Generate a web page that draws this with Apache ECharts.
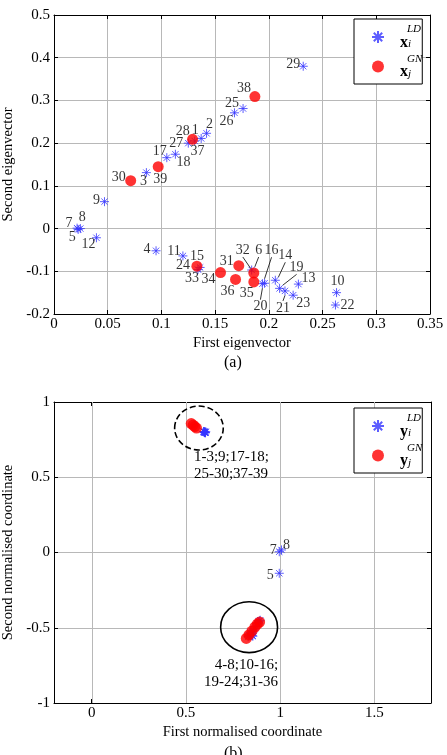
<!DOCTYPE html>
<html>
<head>
<meta charset="utf-8">
<script src="https://cdn.jsdelivr.net/npm/echarts@6/dist/echarts.min.js"></script>
<style>
html, body { margin: 0; padding: 0; background: #fff; }
#main { width: 447px; height: 755px; }
</style>
</head>
<body>
<div id="main"></div>
<script>
// ---- (a) first / second eigenvector ----
let ldIds = [1, 2, 3, 4, 5, 6, 7, 8, 9, 10, 11, 12, 13, 14, 15, 16, 17, 18, 19, 20, 21, 22, 23, 24, 25, 26, 27, 28, 29];
let ldEigX = [0.137, 0.142, 0.086, 0.095, 0.0225, 0.184, 0.0215, 0.0245, 0.047, 0.263, 0.12, 0.0395, 0.2275, 0.206, 0.136,
    0.196, 0.105, 0.113, 0.21, 0.194, 0.215, 0.262, 0.2226, 0.134, 0.176, 0.168, 0.125, 0.131, 0.232];
let ldEigY = [0.211, 0.223, 0.131, -0.052, -0.002, -0.097, 0.001, 0.0, 0.063, -0.15, -0.064, -0.0215, -0.13, -0.121, -0.091,
    -0.128, 0.166, 0.174, -0.14, -0.129, -0.146, -0.179, -0.156, -0.096, 0.281, 0.271, 0.2, 0.205, 0.38];

let gnIds = [30, 31, 32, 33, 34, 35, 36, 37, 38, 39];
let gnEigX = [0.0714, 0.172, 0.186, 0.133, 0.155, 0.186, 0.169, 0.129, 0.187, 0.097];
let gnEigY = [0.112, -0.087, -0.104, -0.088, -0.103, -0.125, -0.119, 0.209, 0.309, 0.145];

// ---- (b) normalised coordinates ----
let ldNormX = [0.598, 0.602, 0.596, 0.85, 0.995, 0.848, 0.995, 1.007, 0.6, 0.852, 0.846, 0.855, 0.84, 0.86, 0.87,
    0.878, 0.594, 0.597, 0.885, 0.89, 0.894, 0.83, 0.835, 0.86, 0.603, 0.601, 0.595, 0.599, 0.605];
let ldNormY = [0.8, 0.797, 0.803, -0.55, -0.138, -0.545, 0.005, 0.017, 0.796, -0.553, -0.54, -0.556, -0.53, -0.52, -0.49,
    -0.47, 0.804, 0.801, -0.46, -0.455, -0.45, -0.56, -0.55, -0.51, 0.795, 0.798, 0.802, 0.799, 0.803];
let gnNormX = [0.528, 0.82, 0.834, 0.85, 0.866, 0.879, 0.891, 0.538, 0.547, 0.556];
let gnNormY = [0.857, -0.571, -0.548, -0.522, -0.495, -0.475, -0.462, 0.847, 0.837, 0.827];

let eigXTicks = { min: 0, max: 0.35, step: 0.05 };
let eigYTicks = { min: -0.2, max: 0.5, step: 0.1 };
let normXTicks = [0, 0.5, 1, 1.5];
let normYTicks = { min: -1, max: 1, step: 0.5 };

// cluster groups in (b): centre, radii, text
let clusterCx = [0.569, 0.835];
let clusterCy = [0.827, -0.496];
let clusterRx = [0.129, 0.151];
let clusterRy = [0.146, 0.169];
let clusterText = ['1-3;9;17-18;\n25-30;37-39', '4-8;10-16;\n19-24;31-36'];

//label placement (px from marker centre)
let eigShift = {
    1: [-6, -8], 2: [3, -9], 3: [-3, 9], 4: [-9, -1], 5: [-6, 8], 6: [7, -20], 7: [-8, -5], 8: [2, -11], 9: [-8, -1],
    10: [1, -11], 11: [-9, -5], 12: [-8, 7], 13: [10, -6], 14: [10, -25], 15: [-3, -11], 16: [7, -33], 17: [-7, -6],
    18: [8, 8], 19: [17, -21], 20: [-2, 23], 21: [-2, 17], 22: [12, 0], 23: [10, 8], 24: [-15, -4], 25: [-11, -5],
    26: [-8, 9], 27: [-12, 0], 28: [-12, -10], 29: [-10, -2],
    30: [-12, -3], 31: [-12, -4], 32: [-11, -23], 33: [-5, 12], 34: [-12, 7], 35: [-7, 11], 36: [-8, 12],
    37: [5, 12], 38: [-11, -8], 39: [2, 13]
};
let leaderIds = [6, 14, 16, 19, 20, 21, 32];
let normShift = { 5: [-9, 2], 7: [-6, -1], 8: [5, -5] };

let FONT = 'Liberation Serif';
let BLUE = '#3535ff';
let RED = '#ff0000';
let GRIDC = '#b8b8b8';
let STAR = 'path://M5,0L5,10M0,5L10,5M1.5,1.5L8.5,8.5M1.5,8.5L8.5,1.5';

let labelShift = (ids, shift) => p => {
    let o = shift[ids[p.dataIndex]] || [0, 0];
    return { dx: o[0], dy: o[1] };
};

let pointLabel = {
    show: true,
    position: 'inside',
    formatter: '{b}',
    color: '#000',
    fontFamily: FONT,
    fontSize: 14
};

let xAxisBase = (gridIndex, position) => ({
    gridIndex: gridIndex,
    type: 'value',
    position: position,
    axisLine: { show: true, onZero: false, lineStyle: { color: '#000', width: 1 } },
    axisTick: { show: true, inside: true, length: 4, lineStyle: { color: '#000' } },
    axisLabel: { show: position === 'bottom', margin: 3, color: '#000', fontFamily: FONT, fontSize: 15 },
    splitLine: { show: false }
});

let yAxisBase = (gridIndex, position) => ({
    gridIndex: gridIndex,
    type: 'value',
    position: position,
    axisLine: { show: true, onZero: false, lineStyle: { color: '#000', width: 1 } },
    axisTick: { show: true, inside: true, length: 4, lineStyle: { color: '#000' } },
    axisLabel: { show: position === 'left', margin: 4, color: '#000', fontFamily: FONT, fontSize: 15 },
    splitLine: { show: false }
});

let nameStyle = { color: '#000', fontFamily: FONT, fontSize: 14.5 };

let legendBase = (names, top, letter) => ({
    data: names,
    orient: 'vertical',
    left: 354,
    top: top,
    padding: [5, 0, 4, 17],
    itemGap: 3,
    itemWidth: 12,
    itemHeight: 12,
    borderColor: '#000',
    borderWidth: 1,
    backgroundColor: '#fff',
    selectedMode: false,
    formatter: name => {
        let isLD = name.endsWith('LD');
        return '{sp|' + (isLD ? 'LD' : 'GN') + '}\n{b|' + letter + '}{sub|' + (isLD ? 'i' : 'j') + '}';
    },
    textStyle: {
        color: '#000',
        fontFamily: FONT,
        rich: {
            sp: { fontStyle: 'italic', fontSize: 11, lineHeight: 11, padding: [0, 0, 0, 18], fontFamily: FONT },
            b: { fontWeight: 'bold', fontSize: 16, lineHeight: 15, padding: [0, 0, 0, 11], fontFamily: FONT },
            sub: { fontStyle: 'italic', fontSize: 11, lineHeight: 15, verticalAlign: 'bottom', fontFamily: FONT }
        }
    }
});

let chart = echarts.init(document.getElementById('main'), null, { renderer: 'canvas' });

let option = {
    animation: false,
    backgroundColor: '#fff',
    title: [
        { text: '(a)', left: 224, top: 355, padding: 0, textStyle: { fontFamily: FONT, fontSize: 16, fontWeight: 'normal', color: '#000' } },
        { text: '(b)', left: 224, top: 746, padding: 0, textStyle: { fontFamily: FONT, fontSize: 16, fontWeight: 'normal', color: '#000' } }
    ],
    grid: [
        { left: 54, top: 15, width: 376, height: 299, outerBoundsMode: 'none' },
        { left: 54, top: 402, width: 377, height: 301, outerBoundsMode: 'none' }
    ],
    legend: [
        legendBase(['xLD', 'xGN'], 19, 'x'),
        legendBase(['yLD', 'yGN'], 408, 'y')
    ],
    xAxis: [
        {
            ...xAxisBase(0, 'bottom'),
            min: eigXTicks.min, max: eigXTicks.max, interval: eigXTicks.step,
            splitLine: { show: true, lineStyle: { color: GRIDC, width: 1 } },
            name: 'First eigenvector', nameLocation: 'middle', nameGap: 22, nameTextStyle: nameStyle
        },
        { ...xAxisBase(0, 'top'), min: eigXTicks.min, max: eigXTicks.max, interval: eigXTicks.step },
        {
            ...xAxisBase(1, 'bottom'),
            min: -0.2, max: 1.8,
            axisTick: { show: true, inside: true, length: 4, lineStyle: { color: '#000' }, customValues: normXTicks },
            axisLabel: { show: true, margin: 3, color: '#000', fontFamily: FONT, fontSize: 15, customValues: normXTicks },
            name: 'First normalised coordinate', nameLocation: 'middle', nameGap: 22, nameTextStyle: nameStyle
        },
        {
            ...xAxisBase(1, 'top'),
            min: -0.2, max: 1.8,
            axisTick: { show: true, inside: true, length: 4, lineStyle: { color: '#000' }, customValues: normXTicks },
            axisLabel: { show: false }
        }
    ],
    yAxis: [
        {
            ...yAxisBase(0, 'left'),
            min: eigYTicks.min, max: eigYTicks.max, interval: eigYTicks.step,
            splitLine: { show: true, lineStyle: { color: GRIDC, width: 1 } },
            name: 'Second eigenvector', nameLocation: 'middle', nameGap: 30, nameTextStyle: nameStyle
        },
        { ...yAxisBase(0, 'right'), min: eigYTicks.min, max: eigYTicks.max, interval: eigYTicks.step },
        {
            ...yAxisBase(1, 'left'),
            min: normYTicks.min, max: normYTicks.max, interval: normYTicks.step,
            splitLine: { show: true, lineStyle: { color: GRIDC, width: 1 } },
            name: 'Second normalised coordinate', nameLocation: 'middle', nameGap: 30, nameTextStyle: nameStyle
        },
        { ...yAxisBase(1, 'right'), min: normYTicks.min, max: normYTicks.max, interval: normYTicks.step }
    ],
    series: [
        {
            name: 'xLD',
            type: 'scatter',
            xAxisIndex: 0, yAxisIndex: 0,
            symbol: STAR, symbolSize: 9,
            itemStyle: { color: 'rgba(0,0,0,0)', borderColor: BLUE, borderWidth: 1 },
            label: pointLabel,
            labelLine: { show: false, lineStyle: { color: '#000', width: 0.8 } },
            labelLayout: labelShift(ldIds, eigShift),
            data: ldIds.map((id, i) => ({
                name: String(id),
                value: [ldEigX[i], ldEigY[i]],
                labelLine: { show: leaderIds.includes(id) }
            })),
            z: 3
        },
        {
            name: 'xGN',
            type: 'scatter',
            xAxisIndex: 0, yAxisIndex: 0,
            symbol: 'circle', symbolSize: 11,
            itemStyle: { color: RED },
            label: pointLabel,
            labelLine: { show: false, lineStyle: { color: '#000', width: 0.8 } },
            labelLayout: labelShift(gnIds, eigShift),
            data: gnIds.map((id, i) => ({
                name: String(id),
                value: [gnEigX[i], gnEigY[i]],
                labelLine: { show: leaderIds.includes(id) }
            })),
            z: 4
        },
        {
            // vertical grid lines of (b)
            type: 'custom',
            xAxisIndex: 2, yAxisIndex: 2,
            silent: true,
            z: 1,
            data: normXTicks.map(v => [v, 0]),
            renderItem: (params, api) => {
                let a = api.coord([api.value(0), normYTicks.min]);
                let b = api.coord([api.value(0), normYTicks.max]);
                return {
                    type: 'line',
                    shape: { x1: Math.round(a[0]) + 0.5, y1: a[1], x2: Math.round(b[0]) + 0.5, y2: b[1] },
                    style: { stroke: GRIDC, lineWidth: 1 }
                };
            }
        },
        {
            name: 'yLD',
            type: 'scatter',
            xAxisIndex: 2, yAxisIndex: 2,
            symbol: STAR, symbolSize: 9,
            itemStyle: { color: 'rgba(0,0,0,0)', borderColor: BLUE, borderWidth: 1 },
            label: { ...pointLabel, formatter: p => (normShift[p.name] ? p.name : '') },
            labelLayout: labelShift(ldIds, normShift),
            data: ldIds.map((id, i) => ({ name: String(id), value: [ldNormX[i], ldNormY[i]] })),
            z: 3
        },
        {
            name: 'yGN',
            type: 'scatter',
            xAxisIndex: 2, yAxisIndex: 2,
            symbol: 'circle', symbolSize: 11,
            itemStyle: { color: RED },
            data: gnIds.map((id, i) => ({ name: String(id), value: [gnNormX[i], gnNormY[i]] })),
            z: 4
        },
        {
            // cluster outlines + member lists
            type: 'custom',
            xAxisIndex: 2, yAxisIndex: 2,
            silent: true,
            z: 5,
            data: clusterCx.map((cx, i) => [cx, clusterCy[i], clusterRx[i], clusterRy[i]]),
            renderItem: (params, api) => {
                let i = params.dataIndex;
                let c = api.coord([api.value(0), api.value(1)]);
                let s = api.size([api.value(2), api.value(3)]);
                let top = i === 0;
                return {
                    type: 'group',
                    children: [
                        {
                            type: 'ellipse',
                            shape: { cx: c[0], cy: c[1], rx: s[0], ry: s[1] },
                            style: { fill: 'none', stroke: '#000', lineWidth: 1.6, lineDash: top ? [6, 3] : null }
                        },
                        {
                            type: 'text',
                            x: top ? c[0] - 5 : c[0] + 29,
                            y: c[1] + s[1] + (top ? -1 : 4),
                            style: {
                                text: clusterText[i],
                                fill: '#000',
                                font: '15px "Liberation Serif"',
                                align: top ? 'left' : 'right',
                                verticalAlign: 'top',
                                lineHeight: 17
                            }
                        }
                    ]
                };
            }
        }
    ]
};

chart.setOption(option);
</script>
</body>
</html>
